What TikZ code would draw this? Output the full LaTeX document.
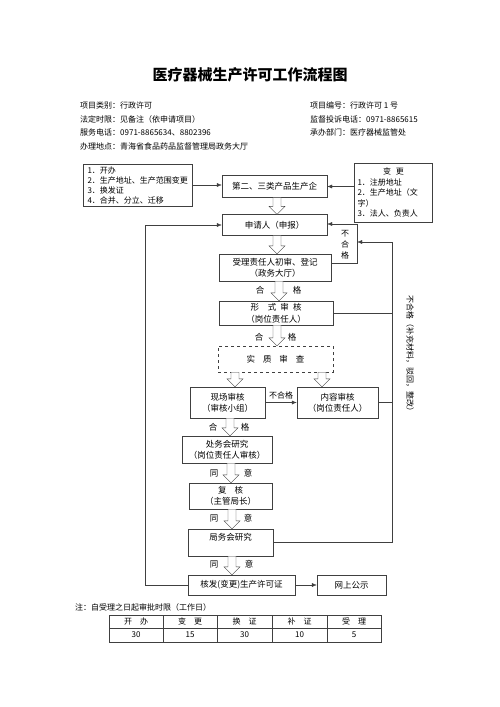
\documentclass[tikz,border=0pt]{standalone}
\usepackage{fontspec}
\setmainfont{Noto Sans CJK SC}
\usetikzlibrary{arrows.meta,calc}

\tikzset{
  box/.style={draw=black!75, align=center, inner sep=1pt, font=\fontsize{8.5}{11}\selectfont},
  arr/.style={draw=black!75, -{Latex[length=5pt,width=4pt]}},
  line/.style={draw=black!75},
  lab/.style={inner sep=0pt, font=\fontsize{8.5}{10}\selectfont},
  info/.style={anchor=west, inner sep=0pt, font=\fontsize{8}{10}\selectfont},
}
% hollow block arrow between two boxes: x, upper node, lower node
\newcommand{\hollow}[3]{%
  \draw[draw=black!75, fill=white] let \p0=(#1,0), \p1=(#2.south), \p2=(#3.north) in
    (\x0-4pt,\y1) -- (\x0+4pt,\y1) -- (\x0+4pt,\y2+8pt) -- (\x0+8pt,\y2+8pt)
    -- (\x0,\y2) -- (\x0-8pt,\y2+8pt) -- (\x0-4pt,\y2+8pt) -- cycle;}

\begin{document}
\begin{tikzpicture}[x=1pt, y=-1pt]
  \useasboundingbox (0,0) rectangle (500,707);

  % Title
  \node[font=\fontsize{15}{15}\selectfont\bfseries] (title) at (250,75) {医疗器械生产许可工作流程图};

  % Header information
  \node[info] (lb1) at (80,105) {项目类别：行政许可};
  \node[info] (lb2) at (80,119) {法定时限：见备注（依申请项目）};
  \node[info] (lb3) at (80,132) {服务电话：0971-8865634、8802396};
  \node[info] (lb4) at (80,146) {办理地点：青海省食品药品监督管理局政务大厅};
  \node[info] (rb1) at (310,105) {项目编号：行政许可 1 号};
  \node[info] (rb2) at (310,119) {监督投诉电话：0971-8865615};
  \node[info] (rb3) at (310,132) {承办部门：医疗器械监管处};

  % Top row
  \node[box, text width=100, inner xsep=4.5, minimum height=42, align=left, font=\fontsize{8}{10}\selectfont] (kaiban) at (137.5,185)
    {1．开办\\2．生产地址、生产范围变更\\3．换发证\\4．合并、分立、迁移};
  \node[box, minimum width=105, minimum height=22] (qiye) at (274.5,186.5) {第二、三类产品生产企};
  \node[box, text width=72, inner xsep=3, minimum height=59, align=left, font=\fontsize{8}{10.5}\selectfont] (biangeng) at (393.5,192.5)
    {\hfil 变\hspace{5pt}更\hfil\\1．注册地址\\2．生产地址（文\\字）\\3．法人、负责人};

  % Main column
  \node[box, minimum width=105, minimum height=21] (shenqing) at (274.5,225) {申请人（申报）};
  \node[box, minimum width=112, minimum height=27] (shouli) at (275,267.5) {受理责任人初审、登记\\（政务大厅）};
  \node[box, minimum width=114, minimum height=24, font=\fontsize{8.5}{12}\selectfont] (xingshi) at (276,313) {形\hspace{9pt}式\hspace{4pt}审\hspace{4pt}核\\（岗位责任人）};
  \node[box, dashed, minimum width=115, minimum height=26] (shizhi) at (275.5,359) {实\hspace{8pt}质\hspace{8pt}审\hspace{8pt}查};
  \node[box, minimum width=75, minimum height=31] (xianchang) at (227.5,402.5) {现场审核\\（审核小组）};
  \node[box, minimum width=81, minimum height=31] (neirong) at (337.5,402.5) {内容审核\\（岗位责任人）};
  \node[box, minimum width=90, minimum height=27] (chuwu) at (227,449.5) {处务会研究\\（岗位责任人审核）};
  \node[box, minimum width=83, minimum height=26] (fuhe) at (230.5,496) {复\hspace{8pt}核\\（主管局长）};
  \node[box, minimum width=85, minimum height=27] (juwu) at (230.5,542.5) {局务会研究\\\mbox{}};
  \node[box, minimum width=107, minimum height=20] (hefa) at (241.5,585) {核发(变更)生产许可证};
  \node[box, minimum width=69, minimum height=20] (gongshi) at (351.5,585) {网上公示};

  % Hollow arrows
  \hollow{277}{qiye}{shenqing}
  \hollow{277}{shenqing}{shouli}
  \hollow{279}{shouli}{xingshi}
  \hollow{277}{xingshi}{shizhi}
  \hollow{235}{shizhi}{xianchang}
  \hollow{322}{shizhi}{neirong}
  \hollow{230}{xianchang}{chuwu}
  \hollow{231}{chuwu}{fuhe}
  \hollow{232}{fuhe}{juwu}
  \hollow{232}{juwu}{hefa}

  % Labels beside hollow arrows
  \node[lab] (he1) at (260,290) {合};
  \node[lab] (ge1) at (297,290) {格};
  \node[lab] (he2) at (259,337) {合};
  \node[lab] (ge2) at (292,337) {格};
  \node[lab] (he3) at (213,427) {合};
  \node[lab] (ge3) at (245,427) {格};
  \node[lab] (tong1) at (214,473) {同};
  \node[lab] (yi1) at (248,473) {意};
  \node[lab] (tong2) at (214,518) {同};
  \node[lab] (yi2) at (248,518) {意};
  \node[lab] (tong3) at (214,564) {同};
  \node[lab] (yi3) at (249,564) {意};

  % Connections top row
  \draw[arr] (kaiban.east) -- (kaiban.east -| qiye.west);
  \draw[arr] (biangeng.west |- qiye) -- (qiye.east);

  % Small loop back to applicant
  \draw[arr] ([yshift=4.5pt]shouli.east) -- ++(26,0) coordinate (loopb) |- ([yshift=1pt]shenqing.east);
  \node[lab, align=center, font=\fontsize{8}{11}\selectfont] (bhg1) at (345,245) {不\\合\\格};

  % Big loop on the right
  \coordinate (rtop) at (392,242);
  \draw[line] (juwu.east) -- (juwu.east -| rtop) -- (rtop);
  \draw[arr] (rtop) -- (rtop -| loopb);
  \draw[line] (xingshi.east) -- (xingshi.east -| rtop);
  \draw[line] (neirong.east) -- (neirong.east -| rtop);
  \node[lab, rotate=-90, font=\fontsize{8}{10}\selectfont] (bhg2) at (410,355) {不合格（补充材料，驳回，整改）};

  % Site check to content check
  \draw[arr] (xianchang.east) -- (neirong.west);
  \node[lab, font=\fontsize{8}{10}\selectfont] (bhg3) at (281,395) {不合格};

  % Issue and publish
  \draw[arr] (hefa.east) -- (gongshi.west);
  \draw[arr] (hefa.west) -- ++(-43,0) |- (shenqing.west);

  % Time limit table
  \node[info] (note) at (75,607) {注：自受理之日起审批时限（工作日）};
  \draw[line] (109,615) rectangle (381,642);
  \draw[line] (109,628) -- (381,628);
  \foreach \x in {163,217,272,327} {
    \draw[line] (\x,615) -- (\x,642);
  }
  \foreach \x/\h/\v [count=\i] in {136/开\hspace{8pt}办/30, 190/变\hspace{8pt}更/15, 244.5/换\hspace{8pt}证/30, 299.5/补\hspace{8pt}证/10, 354/受\hspace{8pt}理/5} {
    \node[lab, font=\fontsize{8}{10}\selectfont] (h\i) at (\x,621.5) {\h};
    \node[lab, font=\fontsize{8}{10}\selectfont] (v\i) at (\x,635) {\v};
  }
\end{tikzpicture}
\end{document}
